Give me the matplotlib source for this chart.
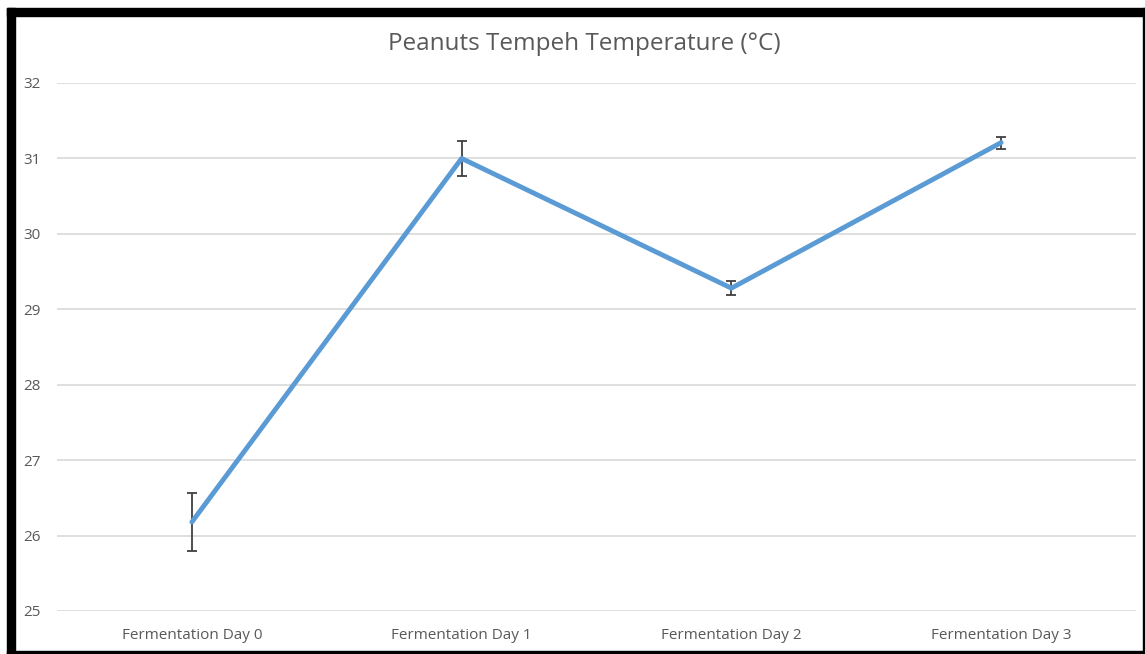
import matplotlib.pyplot as plt
from matplotlib.patches import Rectangle

days = ["Fermentation Day 0", "Fermentation Day 1", "Fermentation Day 2", "Fermentation Day 3"]
temps = [26.18, 31.0, 29.28, 31.21]
errs = [0.39, 0.23, 0.09, 0.08]
yticks = [25, 26, 27, 28, 29, 30, 31, 32]

plt.rcParams['font.family'] = ['Open Sans', 'DejaVu Sans']

W, H = 1145, 654
fig = plt.figure(figsize=(W / 100, H / 100), dpi=100)
fig.patch.set_facecolor('white')

# axes placed in pixel terms: left 57, right 1136, top 83, bottom 611
ax = fig.add_axes([57 / W, 1 - 611 / H, (1136 - 57) / W, (611 - 83) / H])

x = list(range(len(days)))
ax.errorbar(x, temps, yerr=errs, fmt='none', ecolor='#404040', elinewidth=1.3,
            capsize=3.8, capthick=1.3, zorder=2)
ax.plot(x, temps, '-', color='#5B9BD5', lw=3.5, solid_capstyle='round', zorder=3)

ax.set_xlim(-0.5, 3.5)
ax.set_ylim(25, 32)
ax.set_yticks(yticks)
ax.set_xticks(x)
ax.set_xticklabels(days)
ax.yaxis.grid(True, color='#d9d9d9', lw=1.2)
ax.set_axisbelow(True)
for s in ax.spines.values():
    s.set_visible(False)
ax.tick_params(length=0, colors='#595959', labelsize=11)
ax.tick_params(axis='y', pad=12)
ax.tick_params(axis='x', pad=12)

fig.text(584 / W, 1 - 44 / H, "Peanuts Tempeh Temperature (°C)", ha='center', va='center',
         fontsize=17.5, color='#595959')

# black frame around the screenshot
fig.patches.append(Rectangle((7 / W, 0), 8 / W, 1 - 8 / H, transform=fig.transFigure,
                             color='black', zorder=10))
fig.patches.append(Rectangle((7 / W, 1 - 16 / H), 1 - 7 / W, 8 / H, transform=fig.transFigure,
                             color='black', zorder=10))
fig.patches.append(Rectangle((7 / W, 0), 1 - 7 / W, 3 / H, transform=fig.transFigure,
                             color='black', zorder=10))
fig.patches.append(Rectangle((1 - 2 / W, 0), 2 / W, 1 - 8 / H, transform=fig.transFigure,
                             color='black', zorder=10))

fig.savefig('out.png', dpi=100)
